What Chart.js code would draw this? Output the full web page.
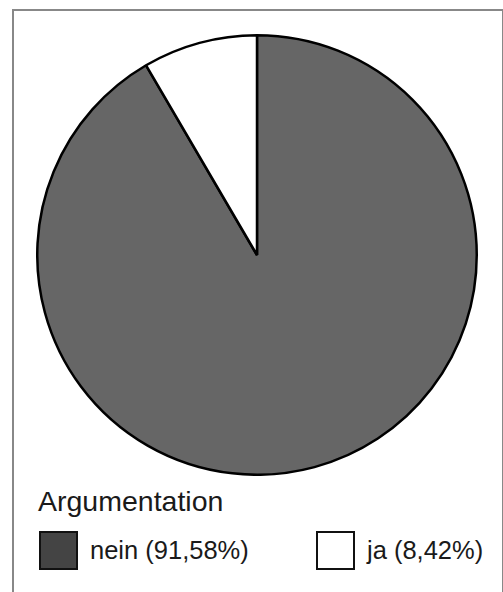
<!DOCTYPE html>
<html>
<head>
<meta charset="utf-8">
<script src="https://cdn.jsdelivr.net/npm/chart.js@4"></script>
<style>
    html, body { margin: 0; padding: 0; background: #fff; }
    body { width: 503px; height: 592px; overflow: hidden; position: relative; font-family: "Liberation Sans", Arial, sans-serif; }
    #frame { position: absolute; left: 12px; top: 9px; width: 488px; height: 620px; border: 2px solid #888; }
    #pieBox { position: absolute; left: 36px; top: 34px; width: 442px; height: 442px; }
    #legendTitle { position: absolute; left: 38px; top: 485px; font-size: 28.5px; color: #1a1a1a; }
    .item { position: absolute; top: 531px; height: 38px; display: flex; align-items: center; }
    .swatch { width: 35px; height: 35px; border: 2px solid #111; }
    .item span { margin-left: 12px; font-size: 25.5px; color: #1a1a1a; }
</style>
</head>
<body>
<div id="frame"></div>
<div id="pieBox"><canvas id="pieChart"></canvas></div>
<div id="legendTitle">Argumentation</div>
<div id="legend"></div>
<script>
// Argumentation: nein / ja
const labels = ['nein', 'ja'];
const percents = [91.58, 8.42];
const sliceColors = ['#666666', '#ffffff'];
const swatchColors = ['#444444', '#ffffff'];
const legendX = [39, 316];

document.addEventListener('DOMContentLoaded', () => {
    new Chart(document.getElementById('pieChart'), {
        type: 'pie',
        data: {
            labels: labels,
            datasets: [{
                data: percents,
                backgroundColor: sliceColors,
                borderColor: '#000000',
                borderWidth: 2.5
            }]
        },
        options: {
            responsive: true,
            maintainAspectRatio: false,
            animation: false,
            layout: { padding: 0 },
            plugins: {
                legend: { display: false },
                tooltip: { enabled: false }
            }
        }
    });

    // legend drawn as html, from the same arrays
    const legend = document.getElementById('legend');
    labels.forEach((name, i) => {
        const item = document.createElement('div');
        item.className = 'item';
        item.style.left = legendX[i] + 'px';
        const sw = document.createElement('div');
        sw.className = 'swatch';
        sw.style.background = swatchColors[i];
        const txt = document.createElement('span');
        txt.textContent = name + ' (' + percents[i].toFixed(2).replace('.', ',') + '%)';
        item.appendChild(sw);
        item.appendChild(txt);
        legend.appendChild(item);
    });
});
</script>
</body>
</html>
